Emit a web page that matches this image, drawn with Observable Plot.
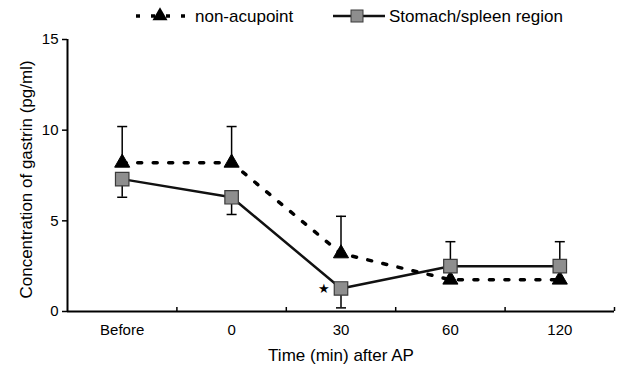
<!DOCTYPE html>
<html><head><meta charset="utf-8">
<script src="https://cdn.jsdelivr.net/npm/d3@7"></script>
<script src="https://cdn.jsdelivr.net/npm/@observablehq/plot@0.6"></script>
<style>
body{margin:0;background:#fff;font-family:"Liberation Sans",Arial,sans-serif;}
#wrap{position:relative;width:619px;height:373px;}
#legend{position:absolute;top:0;left:0;width:619px;height:34px;}
#chart{position:absolute;top:0;left:0;}
</style></head><body>
<div id="wrap"><div id="chart"></div><div id="legend"></div></div>
<script>
const categories = ["Before", "0", "30", "60", "120"];
const nonAcupoint = [8.2, 8.2, 3.2, 1.75, 1.75];
const nonAcupointWhisker = [10.2, 10.2, 5.25, null, null];
const stomachSpleen = [7.3, 6.3, 1.27, 2.5, 2.5];
const stomachSpleenWhisker = [6.3, 5.35, 0.2, 3.85, 3.85];
const significantIdx = [2];
const yTicks = [0, 5, 10, 15];
const seriesNames = ["non-acupoint", "Stomach/spleen region"];
const yTitle = "Concentration of gastrin (pg/ml)";
const xTitle = "Time (min) after AP";

const FONT = "'Liberation Sans', Arial, sans-serif";
const rowsNA = categories.map((c, i) => ({i, v: nonAcupoint[i], w: nonAcupointWhisker[i]}));
const rowsSS = categories.map((c, i) => ({i, v: stomachSpleen[i], w: stomachSpleenWhisker[i]}));
const errNA = rowsNA.filter(d => d.w != null);
const errSS = rowsSS.filter(d => d.w != null);
const idx = categories.map((c, i) => i);
const bounds = categories.map((c, i) => i + 0.5);

const capSymbol = {draw(ctx, size) { const r = Math.sqrt(size / Math.PI); ctx.moveTo(-r, 0); ctx.lineTo(r, 0); }};

const chart = Plot.plot({
  width: 619, height: 373,
  marginLeft: 67, marginRight: 5, marginTop: 39, marginBottom: 62,
  style: {fontFamily: FONT, background: "#fff", overflow: "visible"},
  x: {type: "linear", domain: [-0.5, categories.length - 0.5]},
  y: {domain: [0, 15]},
  marks: [
    Plot.ruleY([0], {stroke: "#000", strokeWidth: 2}),
    Plot.ruleX([-0.5], {stroke: "#000", strokeWidth: 2}),
    Plot.ruleX(bounds, {y1: 0, y2: 0.22, stroke: "#000", strokeWidth: 1.5}),
    Plot.axisY({ticks: yTicks, tickSize: 5, tickPadding: 4, fontSize: 15, label: null, stroke: "#000", strokeWidth: 1.5, fill: "#000"}),
    Plot.axisX({ticks: idx, tickSize: 0, tickPadding: 13, fontSize: 15, label: null, fill: "#000", tickFormat: i => categories[i]}),
    Plot.text([yTitle], {frameAnchor: "left", textAnchor: "middle", rotate: -90, dx: -41, dy: 4, fontSize: 17, fill: "#000"}),
    Plot.text([xTitle], {frameAnchor: "bottom", textAnchor: "middle", dy: 49, fontSize: 17, fill: "#000"}),
    Plot.lineY(rowsSS, {x: "i", y: "v", stroke: "#111", strokeWidth: 2.5}),
    Plot.lineY(rowsNA, {x: "i", y: "v", stroke: "#000", strokeWidth: 3.5, strokeDasharray: "4 11.5"}),
    Plot.ruleX(errNA, {x: "i", y1: "v", y2: "w", stroke: "#000", strokeWidth: 1.5}),
    Plot.dot(errNA, {x: "i", y: "w", symbol: capSymbol, r: 5, stroke: "#000", strokeWidth: 1.5}),
    Plot.ruleX(errSS, {x: "i", y1: "v", y2: "w", stroke: "#000", strokeWidth: 1.5}),
    Plot.dot(errSS, {x: "i", y: "w", symbol: capSymbol, r: 5, stroke: "#000", strokeWidth: 1.5}),
    Plot.dot(rowsNA, {x: "i", y: "v", symbol: "triangle", r: 5.6, fill: "#000", stroke: "#000", strokeWidth: 1}),
    Plot.dot(rowsSS, {x: "i", y: "v", symbol: "square", r: 7.6, fill: "#8e8e8e", stroke: "#3a3a3a", strokeWidth: 1.2}),
    Plot.text(rowsSS.filter(d => significantIdx.includes(d.i)), {x: "i", y: "v", text: () => "★", dx: -17, dy: 0, fontSize: 13, fill: "#000"})
  ]
});
document.getElementById("chart").appendChild(chart);

// legend
const L = d3.select("#legend").append("svg").attr("width", 619).attr("height", 34);
const g1 = L.append("g");
g1.append("line").attr("x1", 136).attr("x2", 186).attr("y1", 16).attr("y2", 16)
  .attr("stroke", "#000").attr("stroke-width", 3.5).attr("stroke-dasharray", "4 11");
g1.append("path").attr("d", d3.symbol(d3.symbolTriangle, 5.6 * 5.6 * Math.PI)()).attr("transform", "translate(160,16)").attr("fill", "#000");
g1.append("text").attr("x", 195).attr("y", 22).attr("font-size", 17).attr("font-family", FONT).text(seriesNames[0]);
const g2 = L.append("g");
g2.append("line").attr("x1", 333).attr("x2", 385).attr("y1", 16).attr("y2", 16).attr("stroke", "#111").attr("stroke-width", 2.5);
g2.append("rect").attr("x", 351).attr("y", 10).attr("width", 12).attr("height", 12).attr("fill", "#8e8e8e").attr("stroke", "#3a3a3a");
g2.append("text").attr("x", 389).attr("y", 22).attr("font-size", 17).attr("font-family", FONT).text(seriesNames[1]);
</script>
</body></html>
